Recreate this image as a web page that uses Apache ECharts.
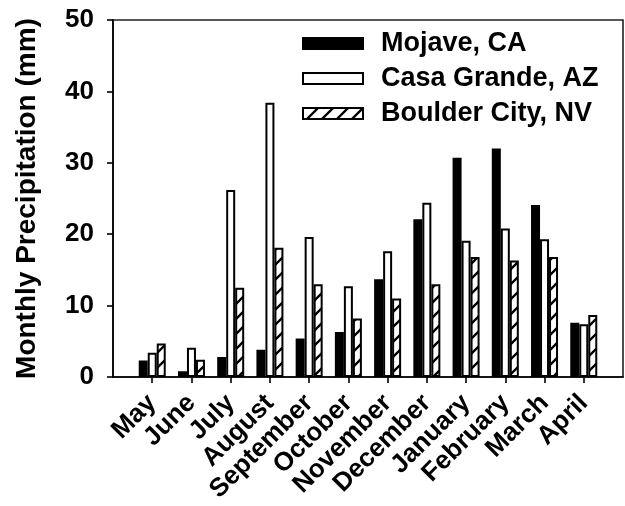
<!DOCTYPE html>
<html>
<head>
<meta charset="utf-8">
<script src="https://cdn.jsdelivr.net/npm/echarts@6/dist/echarts.min.js"></script>
<style>
  html, body { margin: 0; padding: 0; background: #fff; }
  #chart { width: 625px; height: 506px; }
</style>
</head>
<body>
<div id="chart"></div>
<script>
const months = ['May', 'June', 'July', 'August', 'September', 'October', 'November', 'December', 'January', 'February', 'March', 'April'];
const mojave = [2.3, 0.8, 2.8, 3.8, 5.4, 6.3, 13.7, 22.1, 30.7, 32.0, 24.1, 7.6];
const casaGrande = [3.4, 4.1, 26.2, 38.4, 19.6, 12.7, 17.6, 24.4, 19.1, 20.8, 19.3, 7.4];
const boulderCity = [4.7, 2.4, 12.5, 18.1, 13.0, 8.2, 11.0, 13.0, 16.8, 16.3, 16.8, 8.7];
const yTicks = [0, 10, 20, 30, 40, 50];

const FONT = 'Liberation Sans';
const positions = months.map((m, i) => i + 1);

function hatch() {
  const s = 15;
  const c = document.createElement('canvas');
  c.width = s; c.height = s;
  const ctx = c.getContext('2d');
  ctx.fillStyle = '#fff';
  ctx.fillRect(0, 0, s, s);
  ctx.strokeStyle = '#000';
  ctx.lineWidth = 2.3;
  ctx.beginPath();
  ctx.moveTo(-s, 2 * s); ctx.lineTo(2 * s, -s);
  ctx.moveTo(-s, s); ctx.lineTo(s, -s);
  ctx.moveTo(0, 2 * s); ctx.lineTo(2 * s, 0);
  ctx.stroke();
  return c;
}

const pairs = arr => arr.map((v, i) => [positions[i], v]);
const barCommon = {
  type: 'bar',
  barWidth: 9,
  barGap: '0%',
  animation: false
};

const chart = echarts.init(document.getElementById('chart'), null, { renderer: 'canvas' });
chart.setOption({
  animation: false,
  backgroundColor: '#fff',
  grid: {
    left: 113, top: 20, right: 2, bottom: 129,
    show: true, borderColor: '#222', borderWidth: 1.6, backgroundColor: 'transparent'
  },
  legend: {
    orient: 'vertical',
    left: 302, top: 30, padding: 0,
    itemWidth: 60, itemHeight: 11, itemGap: 8,
    selectedMode: false,
    icon: 'rect',
    textStyle: { fontFamily: FONT, fontWeight: 'bold', fontSize: 27, color: '#000', padding: [0, 0, 0, 13] },
    data: ['Mojave, CA', 'Casa Grande, AZ', 'Boulder City, NV']
  },
  xAxis: {
    type: 'value',
    min: 0, max: 13, interval: 1,
    splitLine: { show: false },
    axisLine: { show: true, lineStyle: { color: '#000', width: 1.6 } },
    axisTick: { show: true, customValues: positions, length: 6, lineStyle: { color: '#000', width: 1.6 } },
    axisLabel: {
      customValues: positions,
      formatter: v => months[Math.round(v) - 1] || '',
      rotate: 45, margin: 22,
      fontFamily: FONT, fontWeight: 'bold', fontSize: 26, color: '#000'
    }
  },
  yAxis: {
    type: 'value',
    min: 0, max: 50, interval: 10,
    name: 'Monthly Precipitation (mm)',
    nameLocation: 'middle', nameRotate: 90, nameGap: 72,
    nameTextStyle: { fontFamily: FONT, fontWeight: 'bold', fontSize: 28, color: '#000' },
    splitLine: { show: false },
    axisLine: { show: true, lineStyle: { color: '#000', width: 1.6 } },
    axisTick: { show: true, length: 6, lineStyle: { color: '#000', width: 1.6 } },
    axisLabel: {
      margin: 19,
      formatter: v => yTicks.includes(v) ? String(v) : '',
      fontFamily: FONT, fontWeight: 'bold', fontSize: 26, color: '#000'
    }
  },
  series: [
    Object.assign({}, barCommon, {
      name: 'Mojave, CA',
      data: pairs(mojave),
      itemStyle: { color: '#000', borderColor: '#000', borderWidth: 2 }
    }),
    Object.assign({}, barCommon, {
      name: 'Casa Grande, AZ',
      data: pairs(casaGrande),
      itemStyle: { color: '#fff', borderColor: '#000', borderWidth: 2 }
    }),
    Object.assign({}, barCommon, {
      name: 'Boulder City, NV',
      data: pairs(boulderCity),
      itemStyle: { color: { image: hatch(), repeat: 'repeat' }, borderColor: '#000', borderWidth: 2 }
    })
  ]
});
</script>
</body>
</html>
